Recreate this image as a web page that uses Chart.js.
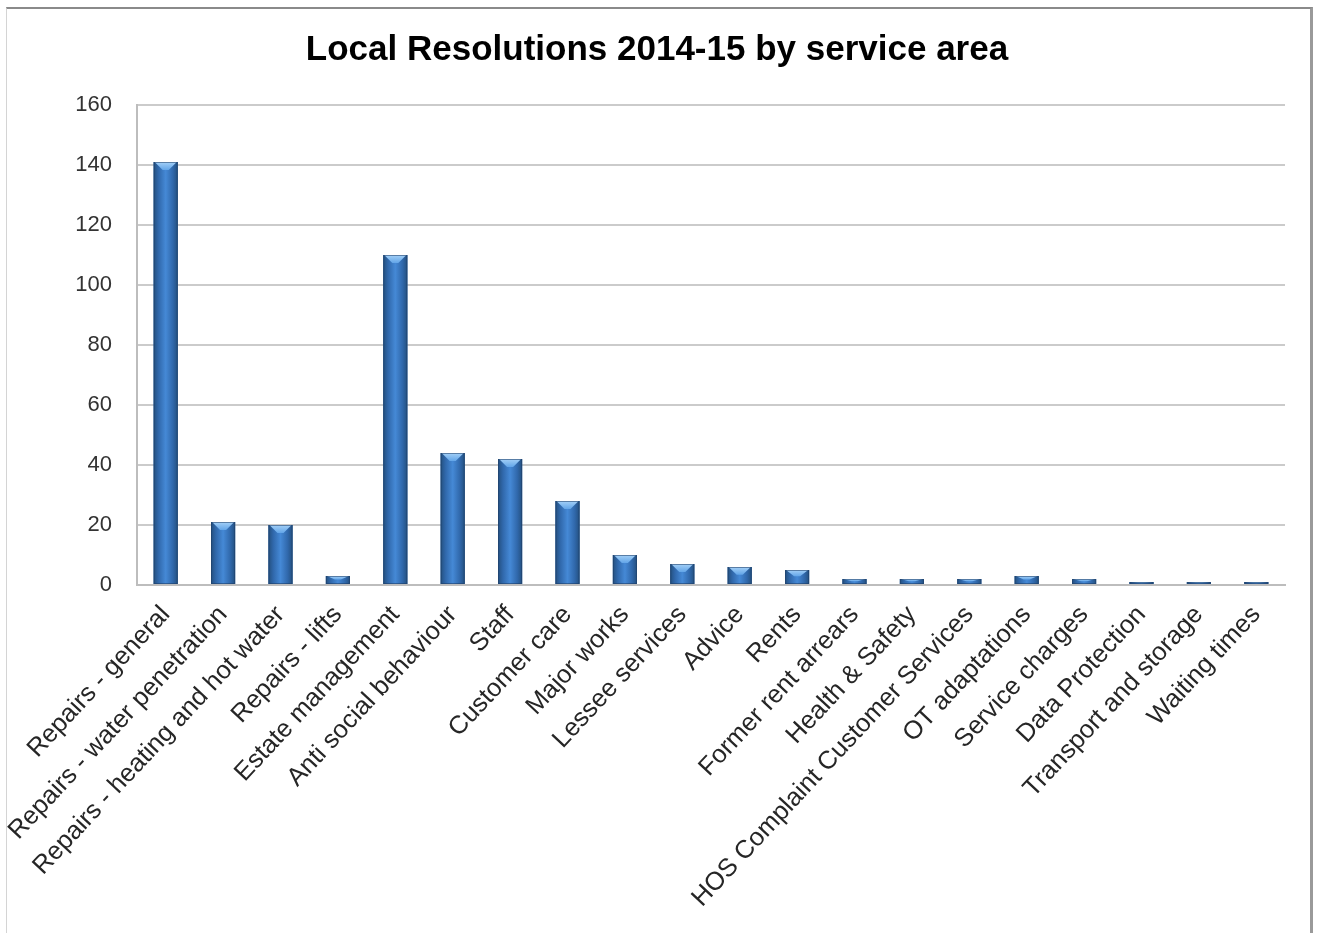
<!DOCTYPE html>
<html>
<head>
<meta charset="utf-8">
<title>Local Resolutions 2014-15 by service area</title>
<script src="https://cdn.jsdelivr.net/npm/chart.js@4"></script>
<style>
    body { margin: 0; background: #fff; }
    #wrap { position: relative; width: 1319px; height: 933px; }
    #frame {
        position: absolute; left: 6px; top: 7px; width: 1303px; height: 940px;
        border-top: 2px solid #8a8a8a; border-left: 1px solid #d4d4d4; border-right: 3px solid #9a9a9a;
        pointer-events: none;
    }
</style>
</head>
<body>
<div id="wrap">
    <canvas id="chart" width="1319" height="933"></canvas>
    <div id="frame"></div>
</div>
<script>
// Data
const categories = [
    'Repairs - general', 'Repairs - water penetration', 'Repairs - heating and hot water',
    'Repairs - lifts', 'Estate management', 'Anti social behaviour', 'Staff', 'Customer care',
    'Major works', 'Lessee services', 'Advice', 'Rents', 'Former rent arrears', 'Health & Safety',
    'HOS Complaint Customer Services', 'OT adaptations', 'Service charges', 'Data Protection',
    'Transport and storage', 'Waiting times'
];
const resolutions = [141, 21, 20, 3, 110, 44, 42, 28, 10, 7, 6, 5, 2, 2, 2, 3, 2, 1, 1, 1];
const yTicks = [0, 20, 40, 60, 80, 100, 120, 140, 160];

const font = "'Liberation Sans', Arial, sans-serif";

// Paint each bar with a shaded cylinder look and a light cap on top
const barShading = {
    id: 'barShading',
    afterDatasetsDraw(chart) {
        const c = chart.ctx;
        chart.getDatasetMeta(0).data.forEach(bar => {
            const left = bar.x - bar.width / 2;
            const right = bar.x + bar.width / 2;
            const top = bar.y;
            const h = bar.base - bar.y;
            const g = c.createLinearGradient(left, 0, right, 0);
            g.addColorStop(0, '#24507f');
            g.addColorStop(0.2, '#3068ab');
            g.addColorStop(0.5, '#4589d6');
            g.addColorStop(0.8, '#3068ab');
            g.addColorStop(1, '#24507f');
            c.save();
            c.fillStyle = g;
            c.fillRect(left, top, right - left, h);
            const capH = Math.min(8, h * 0.45);
            const cg = c.createLinearGradient(0, top, 0, top + capH);
            cg.addColorStop(0, '#a4d0f7');
            cg.addColorStop(1, '#62a5e8');
            c.fillStyle = cg;
            c.beginPath();
            c.moveTo(left + 1, top);
            c.lineTo(right - 1, top);
            c.lineTo(bar.x + 3, top + capH);
            c.lineTo(bar.x - 3, top + capH);
            c.closePath();
            c.fill();
            c.strokeStyle = 'rgba(30,60,100,0.55)';
            c.lineWidth = 1;
            c.strokeRect(left + 0.5, top + 0.5, right - left - 1, h - 1);
            c.restore();
        });
    }
};

new Chart(document.getElementById('chart'), {
    type: 'bar',
    data: {
        labels: categories,
        datasets: [{
            data: resolutions,
            backgroundColor: '#3a75be',
            categoryPercentage: 1,
            barPercentage: 0.42
        }]
    },
    options: {
        responsive: false,
        animation: false,
        layout: { padding: { top: 15, left: 29, right: 34, bottom: 0 } },
        plugins: {
            legend: { display: false },
            tooltip: { enabled: false },
            title: {
                display: true,
                text: 'Local Resolutions 2014-15 by service area',
                color: '#000',
                font: { family: font, size: 35, weight: 'bold' },
                padding: { top: 14, bottom: 34 }
            }
        },
        scales: {
            y: {
                min: 0,
                max: 160,
                afterBuildTicks: s => { s.ticks = yTicks.map(v => ({ value: v })); },
                afterFit: s => { s.width = 108; },
                grid: { color: '#cbcbcb', lineWidth: 2, drawTicks: false },
                border: { color: '#bdbdbd', width: 2 },
                ticks: { color: '#333', padding: 25, font: { family: font, size: 22 } }
            },
            x: {
                afterFit: s => { s.height = 348; },
                grid: { display: false, drawTicks: false },
                border: { color: '#bdbdbd', width: 2 },
                ticks: {
                    color: '#262626', minRotation: 47, maxRotation: 47, padding: 15, autoSkip: false,
                    font: { family: font, size: 25.5 }
                }
            }
        }
    },
    plugins: [barShading]
});
</script>
</body>
</html>
